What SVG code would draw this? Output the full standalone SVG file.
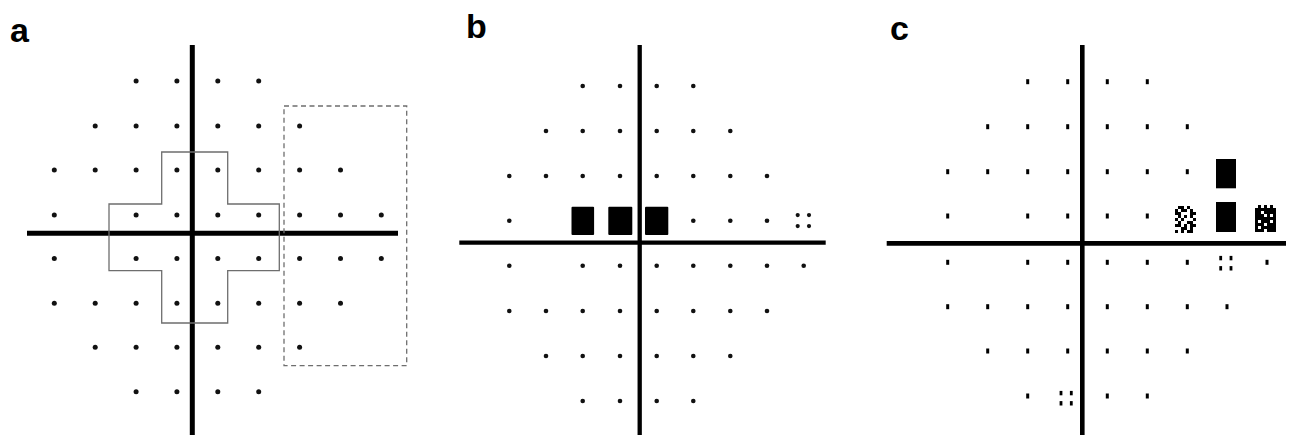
<svg xmlns="http://www.w3.org/2000/svg" xmlns:xlink="http://www.w3.org/1999/xlink" width="1290" height="435" viewBox="0 0 1290 435">
<style>
.lbl{font-family:"Liberation Sans",Arial,sans-serif;font-weight:bold;font-size:34px;fill:#000}
.axis{stroke:#000;fill:none;stroke-linecap:butt}
.blk{fill:#000}
.outline{fill:none;stroke:#6e6e6e;stroke-width:1.3}
.dash{fill:none;stroke:#6e6e6e;stroke-width:1.3;stroke-dasharray:5 3.5}
</style>
<defs>
<circle id="da" cx="0" cy="0" r="2.5" fill="#111"/>
<circle id="db" cx="0" cy="0" r="2.3" fill="#111"/>
<rect id="dc" x="-1.5" y="-2.5" width="3" height="5" fill="#000"/>
<g id="qb"><circle cx="-5.7" cy="-5.5" r="2.1" fill="#111"/><circle cx="5.6" cy="-5.5" r="2.1" fill="#111"/><circle cx="-5.7" cy="5.5" r="2.1" fill="#111"/><circle cx="5.6" cy="5.5" r="2.1" fill="#111"/></g>
<g id="qc"><rect x="-6.7" y="-7.4" width="2.8" height="4.4" fill="#000"/><rect x="3.6" y="-7.4" width="2.8" height="4.4" fill="#000"/><rect x="-6.7" y="2.8" width="2.8" height="4.4" fill="#000"/><rect x="3.6" y="2.8" width="2.8" height="4.4" fill="#000"/></g>
</defs>
<rect width="1290" height="435" fill="#fff"/>

<g id="panel-a">
<text class="lbl" x="10" y="42">a</text>
<g id="a-axes">
<line class="axis" x1="192.3" y1="45" x2="192.3" y2="435" stroke-width="5"/>
<line class="axis" x1="27" y1="233.3" x2="398" y2="233.3" stroke-width="5"/>
</g>
<path id="a-cross" class="outline" d="M161.7,152 H227.7 V204 H279.3 V270.7 H227.7 V323 H161.7 V270.7 H109 V204 H161.7 Z"/>
<rect id="a-box" class="dash" x="284" y="106" width="122.7" height="259.7"/>
<g id="a-dots">
<use href="#da" x="136.1" y="81"/><use href="#da" x="176.9" y="81"/><use href="#da" x="217.8" y="81"/><use href="#da" x="258.7" y="81"/>
<use href="#da" x="95.2" y="126"/><use href="#da" x="136.1" y="126"/><use href="#da" x="176.9" y="126"/><use href="#da" x="217.8" y="126"/><use href="#da" x="258.7" y="126"/><use href="#da" x="299.6" y="126"/>
<use href="#da" x="54.3" y="170"/><use href="#da" x="95.2" y="170"/><use href="#da" x="136.1" y="170"/><use href="#da" x="176.9" y="170"/><use href="#da" x="217.8" y="170"/><use href="#da" x="258.7" y="170"/><use href="#da" x="299.6" y="170"/><use href="#da" x="340.5" y="170"/>
<use href="#da" x="54.3" y="215"/><use href="#da" x="136.1" y="215"/><use href="#da" x="176.9" y="215"/><use href="#da" x="217.8" y="215"/><use href="#da" x="258.7" y="215"/><use href="#da" x="299.6" y="215"/><use href="#da" x="340.5" y="215"/><use href="#da" x="381.3" y="215"/>
<use href="#da" x="54.3" y="258.5"/><use href="#da" x="136.1" y="258.5"/><use href="#da" x="176.9" y="258.5"/><use href="#da" x="217.8" y="258.5"/><use href="#da" x="258.7" y="258.5"/><use href="#da" x="299.6" y="258.5"/><use href="#da" x="340.5" y="258.5"/><use href="#da" x="381.3" y="258.5"/>
<use href="#da" x="54.3" y="303.3"/><use href="#da" x="95.2" y="303.3"/><use href="#da" x="136.1" y="303.3"/><use href="#da" x="176.9" y="303.3"/><use href="#da" x="217.8" y="303.3"/><use href="#da" x="258.7" y="303.3"/><use href="#da" x="299.6" y="303.3"/><use href="#da" x="340.5" y="303.3"/>
<use href="#da" x="95.2" y="347.3"/><use href="#da" x="136.1" y="347.3"/><use href="#da" x="176.9" y="347.3"/><use href="#da" x="217.8" y="347.3"/><use href="#da" x="258.7" y="347.3"/><use href="#da" x="299.6" y="347.3"/>
<use href="#da" x="136.1" y="391.7"/><use href="#da" x="176.9" y="391.7"/><use href="#da" x="217.8" y="391.7"/><use href="#da" x="258.7" y="391.7"/>
</g>
</g>

<g id="panel-b">
<text class="lbl" x="466" y="38">b</text>
<g id="b-axes">
<line class="axis" x1="639.7" y1="45" x2="639.7" y2="435" stroke-width="4.3"/>
<line class="axis" x1="459.3" y1="242.7" x2="825.7" y2="242.7" stroke-width="4.3"/>
</g>
<g id="b-defects">
<rect class="blk" x="571.5" y="206.7" width="22.6" height="28.3" rx="1"/>
<rect class="blk" x="608.3" y="206.7" width="24" height="28.3" rx="1"/>
<rect class="blk" x="645" y="206.7" width="23.3" height="28.3" rx="1"/>
<use href="#qb" x="803.4" y="220.6"/>
</g>
<g id="b-dots">
<use href="#db" x="582.7" y="86"/><use href="#db" x="620" y="86"/><use href="#db" x="656.7" y="86"/><use href="#db" x="693.3" y="86"/>
<use href="#db" x="546" y="131"/><use href="#db" x="582.7" y="131"/><use href="#db" x="620" y="131"/><use href="#db" x="656.7" y="131"/><use href="#db" x="693.3" y="131"/><use href="#db" x="730.3" y="131"/>
<use href="#db" x="509.3" y="176"/><use href="#db" x="546" y="176"/><use href="#db" x="582.7" y="176"/><use href="#db" x="620" y="176"/><use href="#db" x="656.7" y="176"/><use href="#db" x="693.3" y="176"/><use href="#db" x="730.3" y="176"/><use href="#db" x="767" y="176"/>
<use href="#db" x="509.3" y="220.7"/><use href="#db" x="693.3" y="220.7"/><use href="#db" x="730.3" y="220.7"/><use href="#db" x="767" y="220.7"/>
<use href="#db" x="509.3" y="265.7"/><use href="#db" x="582.7" y="265.7"/><use href="#db" x="620" y="265.7"/><use href="#db" x="656.7" y="265.7"/><use href="#db" x="693.3" y="265.7"/><use href="#db" x="730.3" y="265.7"/><use href="#db" x="767" y="265.7"/><use href="#db" x="803.7" y="265.7"/>
<use href="#db" x="509.3" y="311"/><use href="#db" x="546" y="311"/><use href="#db" x="582.7" y="311"/><use href="#db" x="620" y="311"/><use href="#db" x="656.7" y="311"/><use href="#db" x="693.3" y="311"/><use href="#db" x="730.3" y="311"/><use href="#db" x="767" y="311"/>
<use href="#db" x="546" y="356"/><use href="#db" x="582.7" y="356"/><use href="#db" x="620" y="356"/><use href="#db" x="656.7" y="356"/><use href="#db" x="693.3" y="356"/><use href="#db" x="730.3" y="356"/>
<use href="#db" x="582.7" y="401"/><use href="#db" x="620" y="401"/><use href="#db" x="656.7" y="401"/><use href="#db" x="693.3" y="401"/>
</g>
</g>

<g id="panel-c">
<text class="lbl" x="890" y="40">c</text>
<g id="c-axes">
<line class="axis" x1="1082.3" y1="45" x2="1082.3" y2="435" stroke-width="4.6"/>
<line class="axis" x1="886.7" y1="243.3" x2="1286" y2="243.3" stroke-width="4.8"/>
</g>
<g id="c-defects">
<rect class="blk" x="1216" y="159" width="20" height="29.3"/>
<rect class="blk" x="1216" y="202" width="20" height="30"/>
<path id="c-light" class="blk" d="M1178,206h6v3h-6z M1187,206h3v3h-3z M1175,209h3v3h-3z M1181,209h6v3h-6z M1190,209h3v3h-3z M1175,212h6v3h-6z M1190,212h6v3h-6z M1178,215h3v3h-3z M1184,215h3v3h-3z M1190,215h3v3h-3z M1175,218h3v3h-3z M1181,218h3v3h-3z M1193,218h3v3h-3z M1178,221h3v3h-3z M1187,221h6v3h-6z M1175,224h6v3h-6z M1184,224h3v3h-3z M1190,224h6v3h-6z M1181,227h6v3h-6z M1190,227h3v3h-3z M1175,230h3v3h-3z M1181,230h3v3h-3z M1187,230h6v3h-6z"/>
<path id="c-dark" class="blk" d="M1258,205h3v3h-3z M1264,205h3v3h-3z M1270,205h3v3h-3z M1255,208h21v3h-21z M1255,211h6v3h-6z M1264,211h12v3h-12z M1255,214h9v3h-9z M1267,214h3v3h-3z M1273,214h3v3h-3z M1255,217h21v3h-21z M1255,220h3v3h-3z M1261,220h9v3h-9z M1273,220h3v3h-3z M1255,223h9v3h-9z M1267,223h9v3h-9z M1255,226h3v3h-3z M1261,226h15v3h-15z M1255,229h9v3h-9z M1267,229h9v3h-9z"/>
<use href="#qc" x="1226" y="263.3"/>
<use href="#qc" x="1066.3" y="398.3"/>
</g>
<g id="c-dots">
<use href="#dc" x="1027.7" y="81.7"/><use href="#dc" x="1067.7" y="81.7"/><use href="#dc" x="1107.3" y="81.7"/><use href="#dc" x="1147.3" y="81.7"/>
<use href="#dc" x="987.7" y="126.7"/><use href="#dc" x="1027.7" y="126.7"/><use href="#dc" x="1067.7" y="126.7"/><use href="#dc" x="1107.3" y="126.7"/><use href="#dc" x="1147.3" y="126.7"/><use href="#dc" x="1187.3" y="126.7"/>
<use href="#dc" x="947.7" y="171.7"/><use href="#dc" x="987.7" y="171.7"/><use href="#dc" x="1027.7" y="171.7"/><use href="#dc" x="1067.7" y="171.7"/><use href="#dc" x="1107.3" y="171.7"/><use href="#dc" x="1147.3" y="171.7"/><use href="#dc" x="1187.3" y="171.7"/>
<use href="#dc" x="947.7" y="216"/><use href="#dc" x="1027.7" y="216"/><use href="#dc" x="1067.7" y="216"/><use href="#dc" x="1107.3" y="216"/><use href="#dc" x="1147.3" y="216"/>
<use href="#dc" x="947.7" y="262.3"/><use href="#dc" x="1027.7" y="262.3"/><use href="#dc" x="1067.7" y="262.3"/><use href="#dc" x="1107.3" y="262.3"/><use href="#dc" x="1147.3" y="262.3"/><use href="#dc" x="1187.3" y="262.3"/><use href="#dc" x="1267" y="262.3"/>
<use href="#dc" x="947.7" y="306.7"/><use href="#dc" x="987.7" y="306.7"/><use href="#dc" x="1027.7" y="306.7"/><use href="#dc" x="1067.7" y="306.7"/><use href="#dc" x="1107.3" y="306.7"/><use href="#dc" x="1147.3" y="306.7"/><use href="#dc" x="1187.3" y="306.7"/><use href="#dc" x="1227" y="306.7"/>
<use href="#dc" x="987.7" y="351"/><use href="#dc" x="1027.7" y="351"/><use href="#dc" x="1067.7" y="351"/><use href="#dc" x="1107.3" y="351"/><use href="#dc" x="1147.3" y="351"/><use href="#dc" x="1187.3" y="351"/>
<use href="#dc" x="1027.7" y="396"/><use href="#dc" x="1107.3" y="396"/><use href="#dc" x="1147.3" y="396"/>
</g>
</g>
</svg>
